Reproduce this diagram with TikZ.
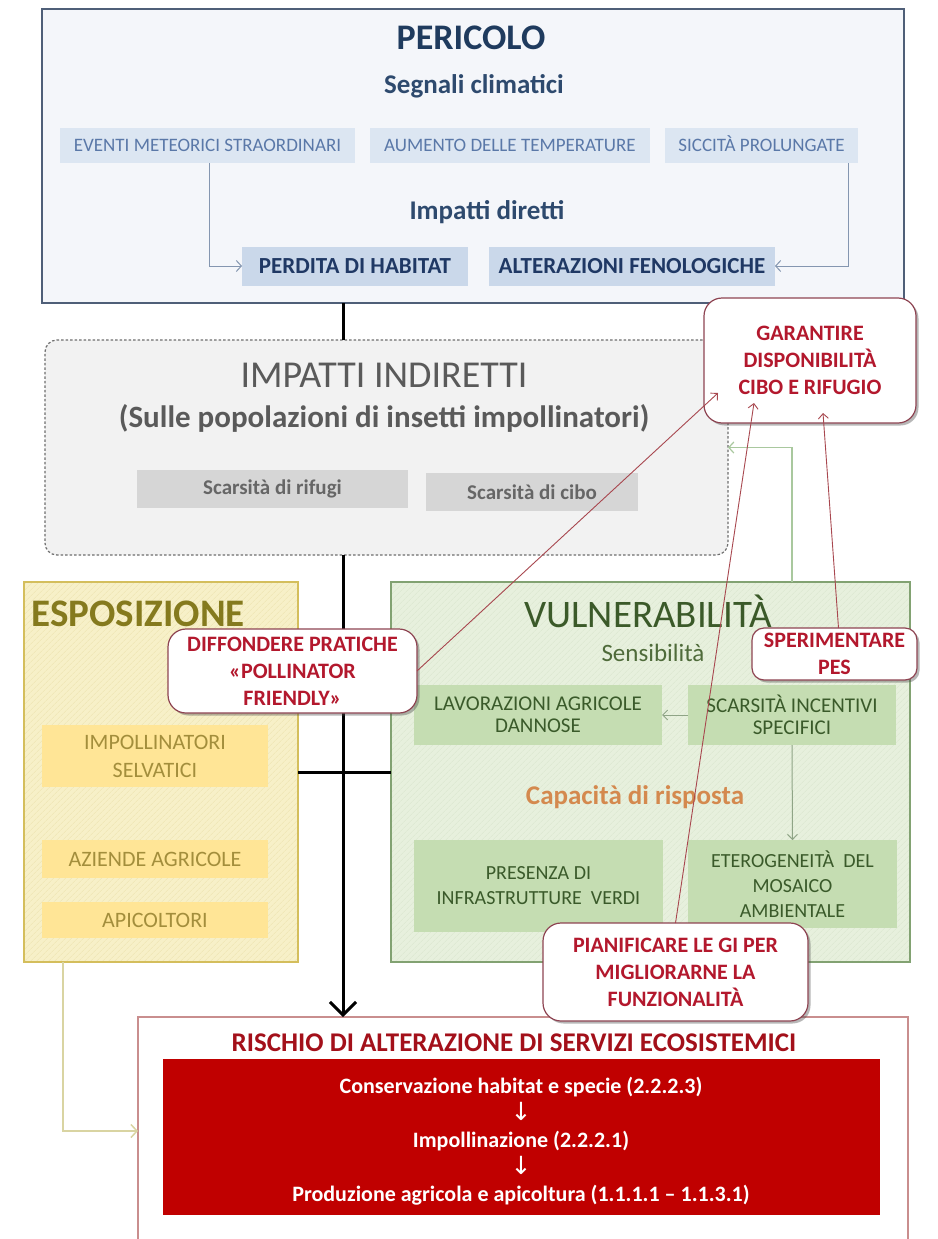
\documentclass[tikz,border=0pt]{standalone}
\usepackage{fontspec}
\setmainfont{Carlito}
\newfontfamily\symfont{DejaVu Sans}
\usetikzlibrary{arrows.meta,shadows,patterns.meta}
\newcommand\fsz[2]{\fontsize{#1}{#2}\selectfont}
\definecolor{perB}{HTML}{4F5F78}
\definecolor{perF}{HTML}{F4F6FA}
\definecolor{perT}{HTML}{1F3B5E}
\definecolor{perS}{HTML}{2E4A6E}
\definecolor{sF}{HTML}{DCE6F2}
\definecolor{sT}{HTML}{5A78A8}
\definecolor{pF}{HTML}{CAD8EA}
\definecolor{pT}{HTML}{1F3864}
\definecolor{arrB}{HTML}{8496B0}
\definecolor{impF}{HTML}{F2F2F2}
\definecolor{impB}{HTML}{6E6E6E}
\definecolor{impT}{HTML}{5A5A5A}
\definecolor{scF}{HTML}{D6D6D6}
\definecolor{scT}{HTML}{666666}
\definecolor{callB}{HTML}{8E4452}
\definecolor{callT}{HTML}{B3182D}
\definecolor{callL}{HTML}{A8474F}
\definecolor{eF}{HTML}{F7F0C8}
\definecolor{eP}{HTML}{EDE3B0}
\definecolor{eB}{HTML}{D4BE5C}
\definecolor{eTitle}{HTML}{857A1E}
\definecolor{eBox}{HTML}{FFE596}
\definecolor{eT}{HTML}{A38E3C}
\definecolor{vF}{HTML}{E7F0DD}
\definecolor{vP}{HTML}{DAE6CE}
\definecolor{vB}{HTML}{82A272}
\definecolor{vTitle}{HTML}{3B5A29}
\definecolor{vS}{HTML}{4F6B3A}
\definecolor{vBox}{HTML}{C5DDB2}
\definecolor{vT}{HTML}{3A5A2A}
\definecolor{capT}{HTML}{D4894E}
\definecolor{gArr}{HTML}{A9C89E}
\definecolor{gArr2}{HTML}{8FA486}
\definecolor{yArr}{HTML}{D9D4A2}
\definecolor{risB}{HTML}{C98E8E}
\definecolor{risT}{HTML}{A3101A}
\definecolor{redF}{HTML}{C00000}
\begin{document}
\begin{tikzpicture}[x=1pt,y=-1pt,
  bx/.style={inner sep=0pt, outer sep=0pt, align=center},
  perbox/.style={bx, draw=perB, line width=2pt, fill=perF},
  sbox/.style={bx, fill=sF, text=sT, font=\fsz{19}{22}, text height=12.5pt, text depth=0pt},
  pbox/.style={bx, fill=pF, text=pT, font=\bfseries\fsz{23}{26}, text height=15pt, text depth=0pt},
  parr/.style={draw=arrB, line width=1pt, -{Straight Barb[length=5pt,width=11pt]}},
  impbox/.style={bx, draw=impB, line width=1.2pt, dash pattern=on 2.5pt off 2pt, fill=impF, rounded corners=12pt},
  scbox/.style={bx, fill=scF, text=scT, font=\bfseries\fsz{21}{24}},
  call/.style={bx, draw=callB, line width=1.2pt, fill=white, rounded corners=18pt, text=callT, font=\bfseries\fsz{22}{27},
    drop shadow={shadow xshift=2.5pt, shadow yshift=-2.5pt, opacity=0.4, fill=black!70}},
  callarr/.style={draw=callL, line width=0.9pt, -{Straight Barb[length=5pt,width=10pt]}},
  espbox/.style={bx, draw=eB, line width=1.5pt, preaction={fill=eF}, pattern={Lines[angle=45,distance=4pt,line width=0.5pt]}, pattern color=eP},
  ebox/.style={bx, fill=eBox, text=eT, font=\fsz{22}{28}},
  vulbox/.style={bx, draw=vB, line width=1.5pt, preaction={fill=vF}, pattern={Lines[angle=45,distance=4pt,line width=0.5pt]}, pattern color=vP},
  vbox/.style={bx, fill=vBox, text=vT, font=\fsz{21}{22}},
  vbox2/.style={bx, fill=vBox, text=vT, font=\fsz{20}{25}},
  blk/.style={draw=black, line width=3pt},
  garr/.style={draw=gArr, line width=1.2pt, -{Straight Barb[length=5pt,width=11pt]}},
  garr2/.style={draw=gArr2, line width=1pt, -{Straight Barb[length=5pt,width=10pt]}},
  yarr/.style={draw=yArr, line width=1.5pt, -{Straight Barb[length=6pt,width=13pt]}},
  risbox/.style={bx, draw=risB, line width=1.2pt, fill=white},
  redbox/.style={bx, fill=redF}
]
\useasboundingbox (0,0) rectangle (937,1239);
\fill[white] (0,0) rectangle (937,1239);

% ---------- PERICOLO ----------
\node[perbox, minimum width=862pt, minimum height=294pt] (peri) at (473,156) {};
\node[anchor=base, text=perT, font=\bfseries\fsz{36}{40}] (periT) at (471,50) {PERICOLO};
\node[anchor=base, text=perS, font=\bfseries\fsz{27}{30}] (segn) at (474,93) {Segnali climatici};
\node[sbox, minimum width=295pt, minimum height=35pt] (ev) at (207.5,145.5) {EVENTI METEORICI STRAORDINARI};
\node[sbox, minimum width=280pt, minimum height=35pt] (au) at (510,145.5) {AUMENTO DELLE TEMPERATURE};
\node[sbox, minimum width=193pt, minimum height=35pt] (si) at (761.5,145.5) {SICCITÀ PROLUNGATE};
\node[anchor=base, text=perS, font=\bfseries\fsz{27}{30}] (dir) at (487,219) {Impatti diretti};
\node[pbox, minimum width=226pt, minimum height=39pt] (pd) at (355,266) {PERDITA DI HABITAT};
\node[pbox, minimum width=286pt, minimum height=39pt] (al) at (632,266) {ALTERAZIONI FENOLOGICHE};
\draw[parr] ([xshift=2pt]ev.south) |- (pd.west);
\draw[parr] ([xshift=-10pt]si.south east) |- (al.east);

% ---------- IMPATTI INDIRETTI ----------
\node[impbox, minimum width=683pt, minimum height=215pt] (imp) at (386.5,447.5) {};
\node[anchor=base, text=impT, font=\fsz{38}{42}] (impT) at (384,387) {IMPATTI INDIRETTI};
\node[anchor=base, text=impT, font=\bfseries\fsz{31}{34}] (impS) at (384,427) {(Sulle popolazioni di insetti impollinatori)};
\node[scbox, minimum width=271pt, minimum height=38pt] (rif) at (272.5,489) {Scarsità di rifugi};
\node[scbox, minimum width=212pt, minimum height=38pt] (cib) at (532,492) {Scarsità di cibo};

% ---------- ESPOSIZIONE ----------
\node[espbox, minimum width=274pt, minimum height=380pt] (esp) at (161,772) {};
\node[anchor=base west, text=eTitle, font=\bfseries\fsz{39}{42}] (espT) at (28,626) {ESPOSIZIONE};
\node[ebox, minimum width=226pt, minimum height=62pt] (sel) at (155,756) {IMPOLLINATORI\\SELVATICI};
\node[ebox, minimum width=226pt, minimum height=38pt] (azi) at (155,859) {AZIENDE AGRICOLE};
\node[ebox, minimum width=226pt, minimum height=36pt] (api) at (155,920) {APICOLTORI};

% ---------- VULNERABILITA ----------
\node[vulbox, minimum width=519pt, minimum height=380pt] (vul) at (650.5,772) {};
\node[anchor=base, text=vTitle, font=\fsz{39}{42}] (vulT) at (648,627) {VULNERABILITÀ};
\node[anchor=base, text=vS, font=\fsz{25}{28}] (sens) at (653,661) {Sensibilità};
\node[vbox, minimum width=248pt, minimum height=60pt] (lav) at (538,715) {LAVORAZIONI AGRICOLE\\DANNOSE};
\node[vbox, minimum width=208pt, minimum height=60pt] (sc) at (792,715) {SCARSITÀ INCENTIVI\\SPECIFICI};
\node[anchor=base, text=capT, font=\bfseries\fsz{27}{30}] (cap) at (635,804) {Capacità di risposta};
\node[vbox2, minimum width=249pt, minimum height=92pt] (pre) at (538.5,886) {PRESENZA DI\\INFRASTRUTTURE \ VERDI};
\node[vbox2, minimum width=209pt, minimum height=88pt] (ete) at (792.5,884) {ETEROGENEITÀ \ DEL\\MOSAICO\\AMBIENTALE};
\draw[garr2] (sc.west) -- (lav.east);
\draw[garr2] (sc.south) -- (ete.north);

% ---------- RISCHIO ----------
\node[risbox, minimum width=770pt, minimum height=224pt] (ris) at (523,1129) {};
\node[anchor=base, text=risT, font=\bfseries\fsz{27}{30}] (risT) at (514,1051) {RISCHIO DI ALTERAZIONE DI SERVIZI ECOSISTEMICI};
\node[redbox, minimum width=717pt, minimum height=156pt] (red) at (521.5,1137) {};
\node[bx, text=white, font=\bfseries\fsz{22}{27}] (redT) at (521,1141)
  {Conservazione habitat e specie (2.2.2.3)\\{\symfont\mdseries\fsz{25}{27}↓}\\Impollinazione (2.2.2.1)\\{\symfont\mdseries\fsz{25}{27}↓}\\Produzione agricola e apicoltura (1.1.1.1 – 1.1.3.1)};

% ---------- spine connectors ----------
\coordinate (spine) at (343,0);
\coordinate (hl) at (0,772);
\coordinate (yx) at (63,0);
\draw[blk] (peri.south -| spine) -- (imp.north -| spine);
\draw[blk, -{Straight Barb[length=13pt,width=26pt]}] (imp.south -| spine) -- (ris.north -| spine);
\draw[blk] (esp.east |- hl) -- (vul.west |- hl);
\draw[garr] (vul.north -| sc) |- (imp.east);
\draw[yarr] (esp.south -| yx) |- ([yshift=-2pt]ris.west);

% ---------- callouts ----------
\node[call, minimum width=212pt, minimum height=125pt] (gar) at (810,360.5) {GARANTIRE\\DISPONIBILITÀ\\CIBO E RIFUGIO};
\node[call, minimum width=249pt, minimum height=84pt] (dif) at (292.5,671) {DIFFONDERE PRATICHE\\«POLLINATOR\\FRIENDLY»};
\node[call, minimum width=165pt, minimum height=52pt, rounded corners=12pt] (spe) at (834.5,654) {SPERIMENTARE\\PES};
\node[call, minimum width=265pt, minimum height=98pt] (pia) at (675.5,972) {PIANIFICARE LE GI PER\\MIGLIORARNE LA\\FUNZIONALITÀ};

\draw[callarr] (dif.east) -- ([xshift=14pt,yshift=30pt]gar.south west);
\draw[callarr] (pia.north) -- ([xshift=50pt,yshift=20pt]gar.south west);
\draw[callarr] ([xshift=4pt]spe.north) -- ([xshift=119pt,yshift=10pt]gar.south west);
\end{tikzpicture}
\end{document}
